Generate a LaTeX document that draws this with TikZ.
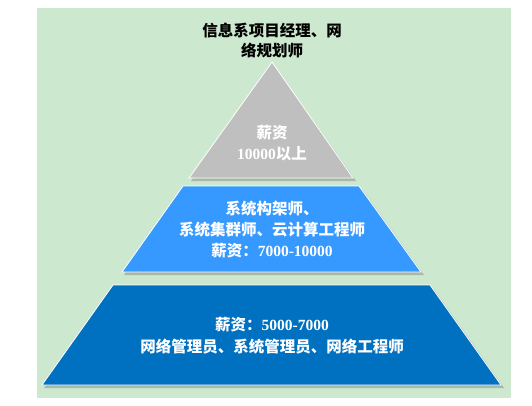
\documentclass[tikz,border=0pt]{standalone}
\usepackage{fontspec}
\setmainfont{Liberation Serif}
\newfontfamily\cjk{Noto Sans CJK SC}
\begin{document}
\begin{tikzpicture}[x=1pt,y=-1pt,
  layer/.style={draw=white,line width=0.8pt},
  shade/.style={fill=black!55,opacity=0.4},
  lbl/.style={text=white,align=center,font=\bfseries\fontsize{15.5}{21}\selectfont},
  lblsmall/.style={text=white,align=center,font=\bfseries\fontsize{15.5}{22}\selectfont}]
\useasboundingbox (0,0) rectangle (532,405);
\fill[fill={rgb,255:red,204;green,232;blue,207}] (37,8) rectangle (511,398);
% shadows
\fill[shade] (274,65) -- (356,181) -- (191,181) -- cycle;
\fill[shade] (185,189) -- (362,189) -- (424,275) -- (124,275) -- cycle;
\fill[shade] (115,288) -- (433,288) -- (504,388) -- (44,388) -- cycle;
% layers
\path[layer,fill={rgb,255:red,191;green,191;blue,191}] (272,62) -- (353,178) -- (189,178) -- cycle;
\path[layer,fill={rgb,255:red,54;green,153;blue,255}] (183,186) -- (359,186) -- (421,272) -- (122,272) -- cycle;
\path[layer,fill={rgb,255:red,0;green,112;blue,192}] (113,285) -- (430,285) -- (501,385) -- (42,385) -- cycle;
% texts
\node[align=center,font=\bfseries\fontsize{15.5}{20}\selectfont] (title) at (272,41) {{\cjk 信息系项目经理、网}\\{\cjk 络规划师}};
\node[lbl] (top) at (272,143) {{\cjk 薪资}\\10000{\cjk 以上}};
\node[lbl] (mid) at (272,229.5) {{\cjk 系统构架师、}\\{\cjk 系统集群师、云计算工程师}\\{\cjk 薪资：}7000-10000};
\node[lblsmall] (bot) at (272,335.5) {{\cjk 薪资：}5000-7000\\{\cjk 网络管理员、系统管理员、网络工程师}};
\end{tikzpicture}
\end{document}
